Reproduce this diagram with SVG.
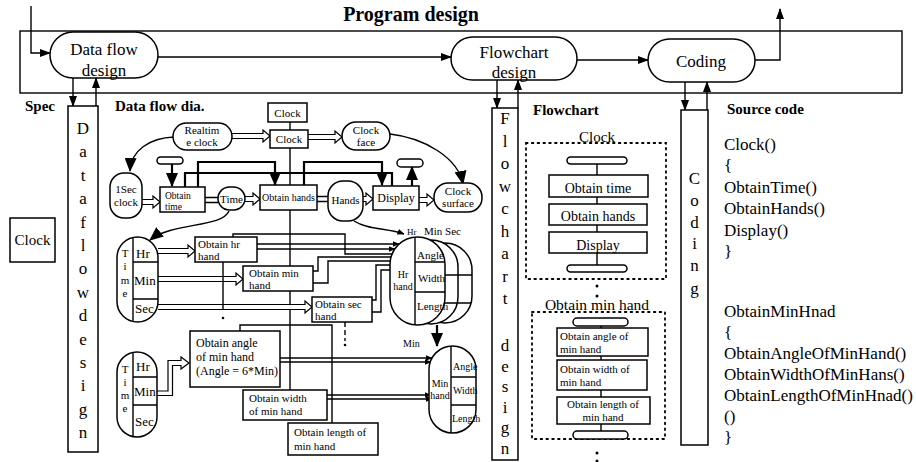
<svg xmlns="http://www.w3.org/2000/svg" width="916" height="462" viewBox="0 0 916 462">
<defs>
<marker id="ah" markerWidth="11" markerHeight="8" refX="10" refY="4" orient="auto" markerUnits="userSpaceOnUse"><path d="M0,0 L11,4 L0,8 Z" fill="#000"/></marker>
<marker id="ahb" markerWidth="14" markerHeight="12" refX="13" refY="6" orient="auto" markerUnits="userSpaceOnUse"><path d="M0,0 L14,6 L0,12 Z" fill="#000"/></marker>
<marker id="ahs" markerWidth="7" markerHeight="6" refX="6.5" refY="3" orient="auto" markerUnits="userSpaceOnUse"><path d="M0,0 L7,3 L0,6 Z" fill="#000"/></marker>
</defs>
<style>
.ln{fill:none;stroke:#000;stroke-width:1.4}
.tk{fill:none;stroke:#000;stroke-width:2.2}
.bx{fill:#fff;stroke:#000;stroke-width:1.5}
.ha{fill:#fff;stroke:#000;stroke-width:1.2}
.dt{fill:none;stroke:#000;stroke-width:1.8;stroke-dasharray:1.6 4.2;stroke-linecap:round}
.ds{fill:none;stroke:#000;stroke-width:1.4;stroke-dasharray:5 3}
text{font-family:"Liberation Serif","Times New Roman",serif;fill:#000}
.b{font-weight:bold}
.m{text-anchor:middle}
.f17{font-size:17px}
.f15{font-size:15px}
.f14{font-size:14px}
.f12{font-size:12px}
.f11{font-size:11px}
.f10{font-size:10px}
</style>

<text x="411" y="21" class="b m" font-size="20">Program design</text>
<rect x="20" y="31" width="882" height="62" class="ln"/>

<g id="connectors">
<path class="ln" d="M31,6 V53 H50" marker-end="url(#ah)"/>
<path class="ln" d="M158,57 H451" marker-end="url(#ah)"/>
<path class="ln" d="M577,60 H648" marker-end="url(#ah)"/>
<path class="ln" d="M755,60 H780 V9" marker-end="url(#ah)"/>
<path class="ln" d="M73,78 V106" marker-end="url(#ah)"/>
<path class="ln" d="M96,106 V78" marker-end="url(#ah)"/>
<path class="ln" d="M497,80 V108" marker-end="url(#ah)"/>
<path class="ln" d="M518,108 V80" marker-end="url(#ah)"/>
<path class="ln" d="M685,82 V110" marker-end="url(#ah)"/>
<path class="ln" d="M707,110 V82" marker-end="url(#ah)"/>

<path class="ln" d="M290,122 V390"/>
<path class="ha" d="M232,133.5 H263 V130 L270,136 L263,142 V138.5 H232"/>
<path class="ha" d="M308,134.5 H335 V131 L342,137 L335,143 V139.5 H308"/>
<path class="ha" d="M142,199.5 H153 V196 L160,202 L153,208 V204.5 H142"/>
<path class="ln" d="M205,197.5 H218 M205,202.5 H218"/>
<path class="ha" d="M245,196.5 H253 V193 L260,199 L253,205 V201.5 H245"/>
<path class="ln" d="M317,196.5 H328 M317,201.5 H328"/>
<path class="ha" d="M362,196.5 H366 V193 L373,199 L366,205 V201.5 H362"/>
<path class="ha" d="M419,197.5 H427 V194 L434,200 L427,206 V202.5 H419"/>
<path class="ha" d="M158,248.5 H188 V245 L195,251 L188,257 V253.5 H158"/>
<path class="ha" d="M158,276.5 H236 V273 L243,279 L236,285 V281.5 H158"/>
<path class="ha" d="M158,304.5 H305 V301 L312,307 L305,313 V309.5 H158"/>
<path class="ha" d="M157,391 H168 V360.5 H181 V357 L189,363 L181,369 V365.5 H172.5 V395.5 H157"/>

<path class="ln" d="M174,137 C150,138 131,150 130,171" marker-end="url(#ahb)"/>
<path class="ln" d="M390,134 C425,138 458,158 463,184" marker-end="url(#ahb)"/>
<path class="ln" d="M229,211 C222,228 172,222 150,240" marker-end="url(#ahb)"/>
<path class="ln" d="M354,221 C368,230 388,228 404,234" marker-end="url(#ahs)"/>

<path class="tk" d="M185,187 V173 H392 V186"/>
<path class="tk" d="M198,187 V162 H275 V185" marker-end="url(#ahb)"/>
<path class="tk" d="M304,185 V162 H382 V185" marker-end="url(#ahb)"/>
<path class="tk" d="M172,164 V186" marker-end="url(#ahb)"/>
<path class="tk" d="M412,186 V167" marker-end="url(#ahb)"/>

<path class="ln" d="M257,244 H399" marker-end="url(#ahs)"/>
<path class="ln" d="M257,249 H395" marker-end="url(#ahs)"/>
<path class="ln" d="M233,237 V234 H345 V254 H400"/>
<path class="ln" d="M313,271 H318 V257 H400"/>
<path class="ln" d="M313,283 H328 V261 H400"/>
<path class="ln" d="M372,300 H376 V265 H400"/>
<path class="ln" d="M372,312 H381 V270 H400"/>
<path class="ln" d="M223,262 V310"/>
<circle cx="223" cy="318" r="1.3"/>
<path class="ds" d="M345,322 V341"/>
<circle cx="345" cy="345" r="1.3"/>
<path class="tk" d="M437,325 V346" marker-end="url(#ahb)"/>

<path class="ln" d="M240,331 V325 H332 V423"/>
<path class="ln" d="M280,358 H432" marker-end="url(#ahs)"/>
<path class="ln" d="M280,362 H431" marker-end="url(#ahs)"/>
<path class="ln" d="M327,395 H431" marker-end="url(#ahs)"/>
<path class="ln" d="M327,399 H432" marker-end="url(#ahs)"/>
</g>

<g id="n-dfd"><rect x="50" y="32" width="108" height="46" rx="23" class="bx"/><text x="104" y="55" class="m f17">Data flow</text><text x="104" y="76" class="m f17">design</text></g>
<g id="n-fcd"><rect x="451" y="37" width="126" height="43" rx="21.5" class="bx"/><text x="514" y="58" class="m f17">Flowchart</text><text x="514" y="78" class="m f17">design</text></g>
<g id="n-coding"><rect x="648" y="39" width="107" height="43" rx="21.5" class="bx"/><text x="701" y="67" class="m f17">Coding</text></g>

<g id="col-dataflow"><rect x="68" y="106" width="30" height="346" class="bx"/>
<text class="m f17" x="83"><tspan x="83" y="134">D</tspan><tspan x="83" y="157.4">a</tspan><tspan x="83" y="180.8">t</tspan><tspan x="83" y="204.2">a</tspan><tspan x="83" y="227.6">f</tspan><tspan x="83" y="251">l</tspan><tspan x="83" y="274.4">o</tspan><tspan x="83" y="297.8">w</tspan><tspan x="83" y="321.2">d</tspan><tspan x="83" y="344.6">e</tspan><tspan x="83" y="368">s</tspan><tspan x="83" y="391.4">i</tspan><tspan x="83" y="414.8">g</tspan><tspan x="83" y="438.2">n</tspan></text></g>
<g id="col-flowchart"><rect x="492" y="108" width="26" height="352" class="bx"/>
<text class="m f17" x="505"><tspan x="505" y="124">F</tspan><tspan x="505" y="146.5">l</tspan><tspan x="505" y="169">o</tspan><tspan x="505" y="191.5">w</tspan><tspan x="505" y="214">c</tspan><tspan x="505" y="236.5">h</tspan><tspan x="505" y="259">a</tspan><tspan x="505" y="281.5">r</tspan><tspan x="505" y="304">t</tspan><tspan x="505" y="351">d</tspan><tspan x="505" y="371.5">e</tspan><tspan x="505" y="392">s</tspan><tspan x="505" y="412.5">i</tspan><tspan x="505" y="433">g</tspan><tspan x="505" y="453.5">n</tspan></text></g>
<g id="col-coding"><rect x="681" y="110" width="27" height="335" class="bx"/>
<text class="m f17" x="694.5"><tspan x="694.5" y="184">C</tspan><tspan x="694.5" y="206">o</tspan><tspan x="694.5" y="228">d</tspan><tspan x="694.5" y="249">i</tspan><tspan x="694.5" y="271">n</tspan><tspan x="694.5" y="294">g</tspan></text></g>

<g id="labels">
<text x="25" y="111" class="b f15">Spec</text>
<text x="115" y="111" class="b f15">Data flow dia.</text>
<text x="533" y="115" class="b f15">Flowchart</text>
<text x="727" y="114" class="b f15">Source code</text>
</g>

<g id="n-clock-spec"><rect x="10" y="218" width="45" height="44" class="bx"/><text x="32.5" y="245" class="m f15">Clock</text></g>

<g id="n-clock-top"><rect x="268" y="103" width="39" height="19" class="bx"/><text x="287.5" y="117" class="m f11">Clock</text></g>
<g id="n-clock"><rect x="270" y="130" width="38" height="18" class="bx"/><text x="289" y="143" class="m f11">Clock</text></g>
<g id="n-realtime"><rect x="173" y="123" width="59" height="27" rx="13.5" class="bx"/><text x="202" y="134" class="m f11">Realtim</text><text x="202" y="146" class="m f11">e clock</text></g>
<g id="n-clockface"><rect x="342" y="122" width="48" height="28" rx="14" class="bx"/><text x="366" y="134" class="m f11">Clock</text><text x="366" y="146" class="m f11">face</text></g>
<g id="n-1sec"><rect x="110" y="173" width="32" height="45" rx="14" class="bx"/><text x="126" y="193" class="m f11">1Sec</text><text x="126" y="206" class="m f11">clock</text></g>
<g id="n-term1"><rect x="157" y="157" width="26" height="7" rx="3.5" class="bx"/></g>
<g id="n-obtaintime"><rect x="160" y="187" width="45" height="25" class="bx"/><text x="165" y="199" font-size="9.5">Obtain</text><text x="165" y="210" font-size="9.5">time</text></g>
<g id="n-time"><rect x="218" y="187" width="27" height="23" rx="11.5" class="bx"/><text x="231.5" y="203" class="m f11">Time</text></g>
<g id="n-obtainhands"><rect x="260" y="185" width="57" height="25" class="bx"/><text x="288.5" y="201" class="m f10">Obtain hands</text></g>
<g id="n-hands"><rect x="328" y="181" width="35" height="40" rx="15" class="bx"/><text x="345.5" y="204" class="m f11">Hands</text></g>
<g id="n-display"><rect x="373" y="186" width="46" height="24" class="bx"/><text x="396" y="202" class="m f12">Display</text></g>
<g id="n-term2"><rect x="397" y="159" width="26" height="8" rx="4" class="bx"/></g>
<g id="n-surface"><rect x="434" y="183" width="48" height="29" rx="14" class="bx"/><text x="458" y="195" class="m f11">Clock</text><text x="458" y="207" class="m f11">surface</text></g>

<g id="n-time1">
<rect x="117" y="237" width="41" height="85" rx="20.5" class="bx"/>
<path class="ln" d="M133,237.5 V321.5 M133,262 H158 M133,299 H158"/>
<text class="m f11" x="125"><tspan x="125" y="257">T</tspan><tspan x="125" y="270">i</tspan><tspan x="125" y="284">m</tspan><tspan x="125" y="297">e</tspan></text>
<text x="136" y="258" font-size="13">Hr</text><text x="134" y="285" font-size="13">Min</text><text x="135" y="313" font-size="13">Sec</text>
</g>
<g id="n-hrhand"><rect x="195" y="237" width="62" height="25" class="bx"/><text x="198" y="248" class="f11">Obtain hr</text><text x="198" y="260" class="f11">hand</text></g>
<g id="n-minhand"><rect x="243" y="266" width="70" height="25" class="bx"/><text x="249" y="277" class="f11">Obtain min</text><text x="249" y="289" class="f11">hand</text></g>
<g id="n-sechand"><rect x="312" y="297" width="60" height="25" class="bx"/><text x="315" y="308" class="f11">Obtain sec</text><text x="315" y="320" class="f11">hand</text></g>

<g id="n-hrblock">
<text x="407" y="235" font-size="9">Hr</text><text x="424" y="235" class="f11">Min Sec</text>
<rect x="418" y="243" width="54" height="80" rx="27" class="bx"/>
<rect x="404" y="240" width="54" height="84" rx="27" class="bx"/>
<path class="ln" d="M445,275 H472 M445,303 H471"/>
<rect x="390" y="237" width="55" height="88" rx="27.5" class="bx"/>
<path class="ln" d="M415,237 V325 M415,262 H445 M415,292 H445"/>
<text x="417" y="259" class="f11">Angle</text><text x="418" y="282" class="f11">Width</text><text x="417" y="310" class="f11">Length</text>
<text x="403" y="278" class="m f10">Hr</text><text x="403" y="290" class="m f10">hand</text>
</g>

<g id="n-minblock">
<text x="403" y="347" class="f10">Min</text>
<rect x="429" y="346" width="47" height="87" rx="23.5" class="bx"/>
<path class="ln" d="M451,346 V433 M451,377 H476 M451,405 H476"/>
<text x="453" y="370" class="f10">Angle</text><text x="453" y="394" class="f10">Width</text><text x="452" y="422" class="f10">Length</text>
<text x="440" y="387" class="m f10">Min</text><text x="440" y="399" class="m f10">hand</text>
</g>

<g id="n-time2">
<rect x="117" y="352" width="40" height="85" rx="20" class="bx"/>
<path class="ln" d="M133,352.5 V436.5 M133,377 H157 M133,405 H157"/>
<text class="m f11" x="125"><tspan x="125" y="373">T</tspan><tspan x="125" y="386">i</tspan><tspan x="125" y="399">m</tspan><tspan x="125" y="412">e</tspan></text>
<text x="136" y="371" font-size="13">Hr</text><text x="134" y="396" font-size="13">Min</text><text x="135" y="426" font-size="13">Sec</text>
</g>
<g id="n-angle"><rect x="190" y="331" width="90" height="56" class="bx"/><text x="196" y="347" class="f12">Obtain angle</text><text x="196" y="361" class="f12">of min hand</text><text x="196" y="375" class="f12">(Angle = 6*Min)</text></g>
<g id="n-width"><rect x="243" y="390" width="84" height="30" class="bx"/><text x="249" y="402" class="f11">Obtain width</text><text x="249" y="415" class="f11">of min hand</text></g>
<g id="n-length"><rect x="288" y="423" width="90" height="32" class="bx"/><text x="294" y="436" class="f11">Obtain length of</text><text x="294" y="450" class="f11">min hand</text></g>

<g id="fc-clock">
<text x="597" y="142" class="m f15">Clock</text>
<rect x="526" y="143" width="140" height="136" class="dt"/>
<path class="ln" d="M597,164 V175 M597,197 V204 M597,225 V232 M597,253 V265"/>
<rect x="567" y="157" width="60" height="7" rx="3.5" class="bx"/>
<rect x="549" y="175" width="99" height="22" class="bx"/><text x="598" y="193" class="m f14">Obtain time</text>
<rect x="549" y="204" width="98" height="21" class="bx"/><text x="598" y="221" class="m f14">Obtain hands</text>
<rect x="549" y="232" width="98" height="21" class="bx"/><text x="598" y="250" class="m f14">Display</text>
<rect x="567" y="265" width="60" height="7" rx="3.5" class="bx"/>
</g>
<g id="fc-dots"><circle cx="597" cy="286" r="1.5"/><circle cx="597" cy="296" r="1.5"/><circle cx="597" cy="453" r="1.5"/><circle cx="597" cy="461" r="1.5"/></g>
<g id="fc-minhand">
<text x="597" y="310" class="m" font-size="15.5">Obtain min hand</text>
<rect x="532" y="312" width="133" height="127" class="dt"/>
<path class="ln" d="M601,326 V328 M601,356 V360 M601,390 V397 M601,424 V431"/>
<rect x="573" y="318" width="55" height="8" rx="4" class="bx"/>
<rect x="557" y="328" width="91" height="28" class="bx"/><text x="560" y="340" class="f11">Obtain angle of</text><text x="560" y="353" class="f11">min hand</text>
<rect x="557" y="360" width="90" height="30" class="bx"/><text x="560" y="373" class="f11">Obtain width of</text><text x="560" y="386" class="f11">min hand</text>
<rect x="557" y="397" width="93" height="27" class="bx"/><text x="603" y="408" class="m f11">Obtain length of</text><text x="603" y="421" class="m f11">min hand</text>
<rect x="573" y="431" width="55" height="8" rx="4" class="bx"/>
</g>

<g id="source-code" class="f17">
<text x="724" y="150">Clock()</text>
<text x="724" y="171">{</text>
<text x="724" y="193">ObtainTime()</text>
<text x="724" y="214">ObtainHands()</text>
<text x="724" y="236">Display()</text>
<text x="724" y="257">}</text>
<text x="724" y="317">ObtainMinHnad</text>
<text x="724" y="338">{</text>
<text x="724" y="359">ObtainAngleOfMinHand()</text>
<text x="724" y="380">ObtainWidthOfMinHans()</text>
<text x="724" y="401">ObtainLengthOfMinHnad()</text>
<text x="724" y="422">()</text>
<text x="724" y="443">}</text>
</g>
</svg>
